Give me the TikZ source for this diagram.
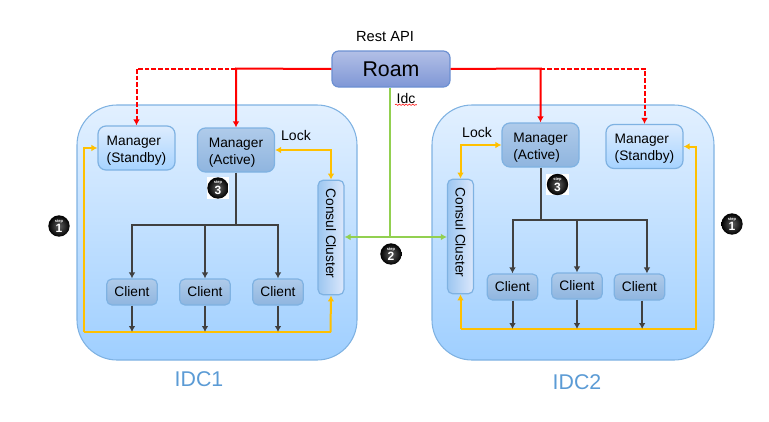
\documentclass[tikz,border=0pt]{standalone}
\usepackage{fontspec}
\setmainfont{Liberation Sans}
\usepackage{xcolor}
\usetikzlibrary{arrows.meta, positioning}
\usetikzlibrary{decorations.pathmorphing}
\definecolor{boxline}{HTML}{7FB2E2}
\definecolor{idctext}{HTML}{5B9BD5}
\definecolor{wirered}{HTML}{FF0000}
\definecolor{wireyellow}{HTML}{FFC000}
\definecolor{wiregreen}{HTML}{92D050}
\definecolor{wireblack}{HTML}{404040}
\definecolor{idctop}{HTML}{E2F0FF}
\definecolor{idcbottom}{HTML}{9FCFFF}
\definecolor{standbytop}{HTML}{DDECFE}
\definecolor{standbybottom}{HTML}{A6D3FF}
\definecolor{activetop}{HTML}{AFCBEA}
\definecolor{activebottom}{HTML}{8FB5DF}
\definecolor{consulleft}{HTML}{9CC6F0}
\definecolor{consulright}{HTML}{DCE8FC}
\definecolor{roamtop}{HTML}{B2BFE6}
\definecolor{roambottom}{HTML}{7F97D6}
\definecolor{roamline}{HTML}{6C90D2}
\tikzset{
    idcbox/.style={draw=boxline, line width=.8pt, rounded corners=30pt, top color=idctop, bottom color=idcbottom,
        minimum height=191.25pt},
    standbybox/.style={draw=boxline, line width=.9pt, rounded corners=6pt, top color=standbytop, bottom color=standbybottom,
        minimum width=57.75pt, minimum height=33pt, align=left, font=\fontsize{10.3}{13}\selectfont, inner sep=0pt},
    activebox/.style={standbybox, top color=activetop, bottom color=activebottom},
    clientbox/.style={activebox, rounded corners=4pt, minimum width=38pt, minimum height=19.5pt},
    consulbox/.style={standbybox, rounded corners=4pt, left color=consulleft, right color=consulright,
        minimum width=86pt, minimum height=19.5pt},
    roambox/.style={draw=roamline, line width=.9pt, rounded corners=5pt, top color=roamtop, bottom color=roambottom,
        minimum width=88.5pt, minimum height=27pt, font=\fontsize{16}{18}\selectfont, inner sep=0pt},
    stepball/.style={circle, inner color=gray!75!black, outer color=black, text=white, minimum size=16pt, inner sep=0pt,
        align=center, font=\bfseries\fontsize{9}{6}\selectfont},
    redline/.style={draw=wirered, line width=1.5pt},
    yellowline/.style={draw=wireyellow, line width=1.5pt},
    greenline/.style={draw=wiregreen, line width=1.9pt},
    blackline/.style={draw=wireblack, line width=1.5pt},
    tip/.style={-{Latex[length=4.5pt,width=5pt]}},
    bothtip/.style={{Latex[length=4.5pt,width=5pt]}-{Latex[length=4.5pt,width=5pt]}},
}
\newcommand{\stepmark}[1]{{\fontsize{3}{3}\selectfont step}\\#1}
\newcommand{\lowered}[1]{\raisebox{-1.8pt}[\height][\depth]{#1}}
\begin{document}
\begin{tikzpicture}[x=.75pt, y=-.75pt]
    \useasboundingbox (0,0) rectangle (769,422);

    % data centres
    \node[idcbox, minimum width=210pt] (idcA) at (217,232.5) {};
    \node[idcbox, minimum width=211.5pt] (idcB) at (573,232.5) {};
    \node[text=idctext, font=\fontsize{16}{18}\selectfont] (idcAname) at (199,379.5) {IDC1};
    \node[text=idctext, font=\fontsize{16}{18}\selectfont] (idcBname) at (577,382) {IDC2};

    % top
    \node[roambox] (roam) at (391,69) {Roam};
    \node[font=\fontsize{11}{13}\selectfont] (rest) at (385,36.5) {Rest API};
    \node[font=\fontsize{10.5}{13}\selectfont, inner sep=1pt] (idc) at (406,98) {Idc};
    \draw[wirered, line width=.4pt, decorate, decoration={snake, amplitude=.5pt, segment length=2.5pt}]
        (idc.south west) -- (idc.south east);

    % left side
    \node[standbybox] (standbyA) at (136.5,148) {\lowered{Manager}\\\lowered{(Standby)}};
    \node[activebox] (activeA) at (236,150) {\lowered{Manager}\\\lowered{(Active)}};
    \node[consulbox, rotate=-90] (consulA) at (331,237.5) {Consul Cluster\hspace{6pt}};
    \node[clientbox] (clientAa) at (132,292) {Client};
    \node[clientbox] (clientAb) at (205,292) {Client};
    \node[clientbox] (clientAc) at (278,292) {Client};
    \node (lockA) at (296,135.5) [font=\fontsize{10.5}{13}\selectfont] {Lock};

    % right side
    \node[activebox] (activeB) at (540.5,145) {\lowered{Manager}\\\lowered{(Active)}};
    \node[standbybox] (standbyB) at (644.5,146.5) {\lowered{Manager}\\\lowered{(Standby)}};
    \node[consulbox, rotate=-90] (consulB) at (460.5,236.5) {Consul Cluster\hspace{6pt}};
    \node[clientbox] (clientBa) at (512.5,287) {Client};
    \node[clientbox] (clientBb) at (577,286) {Client};
    \node[clientbox] (clientBc) at (639.5,287) {Client};
    \node (lockB) at (477,132.5) [font=\fontsize{10.5}{13}\selectfont] {Lock};

    % junctions
    \coordinate (splitA) at (235,68.5);
    \coordinate (splitB) at (540.5,68.5);
    \coordinate (treeA) at (236,225);
    \coordinate (treeB) at (540.5,220);
    \coordinate (busAl) at (84,332);
    \coordinate (busAr) at (330.5,332);
    \coordinate (busBl) at (460.5,329);
    \coordinate (busBr) at (696,329);
    \coordinate (greenjoin) at (390,237);

    % red
    \draw[redline, tip] (roam.west) -- (splitA -| activeA) -- (activeA.north);
    \draw[redline, tip, dash pattern=on 3.5pt off 1.5pt] (splitA -| activeA) -| (standbyA.north);
    \draw[redline, tip] (roam.east) -- (splitB -| activeB) -- (activeB.north);
    \draw[redline, tip, dash pattern=on 3.5pt off 1.5pt] (splitB -| activeB) -| (standbyB.north);

    % green
    \draw[greenline] (roam.south -| greenjoin) -- (greenjoin);
    \draw[greenline, tip] (greenjoin) -- (greenjoin -| consulA.north);
    \draw[greenline, tip] (greenjoin) -- (greenjoin -| consulB.south);

    % yellow
    \draw[yellowline, bothtip] (activeA.east) -| (consulA.west);
    \draw[yellowline, bothtip] (activeB.west) -| (consulB.west);
    \draw[yellowline] (busAr) -- (busAl);
    \draw[yellowline, tip] (busAl) |- (standbyA.west);
    \draw[yellowline, tip] (busAr) -- (consulA.east);
    \draw[yellowline, tip] (busBl) -- (busBr) |- (standbyB.east);
    \draw[yellowline, tip] (busBl) -- (consulB.east);

    % black
    \draw[blackline] (activeA.south) -- (treeA);
    \draw[blackline] (activeB.south) -- (treeB);
    \foreach \c in {clientAa,clientAb,clientAc}{
        \draw[blackline, tip] (treeA) -| (\c.north);
        \draw[blackline, tip] (\c.south) -- (\c.south |- busAl);
    }
    \foreach \c in {clientBa,clientBb}{
        \draw[blackline, tip] (treeB) -| (\c.north);
        \draw[blackline, tip] (\c.south) -- (\c.south |- busBl);
    }
    \draw[blackline, tip] (treeB) -| ([xshift=5.6pt]clientBc.north);
    \draw[blackline, tip] ([xshift=2pt]clientBc.south) -- ([xshift=2pt]clientBc.south |- busBl);

    % step marks
    \node[fill=white, minimum width=17pt, minimum height=16pt, inner sep=0pt] (backA) at (218,188) {};
    \node[fill=white, minimum width=17pt, minimum height=16pt, inner sep=0pt] (backB) at (557.5,184.5) {};
    \node[stepball] (stepAa) at (59,226) {\stepmark{1}};
    \node[stepball] (stepAb) at (218,188) {\stepmark{3}};
    \node[stepball] (stepC) at (391,254) {\stepmark{2}};
    \node[stepball] (stepBb) at (557.5,184.5) {\stepmark{3}};
    \node[stepball] (stepBa) at (732,224) {\stepmark{1}};

\end{tikzpicture}
\end{document}
